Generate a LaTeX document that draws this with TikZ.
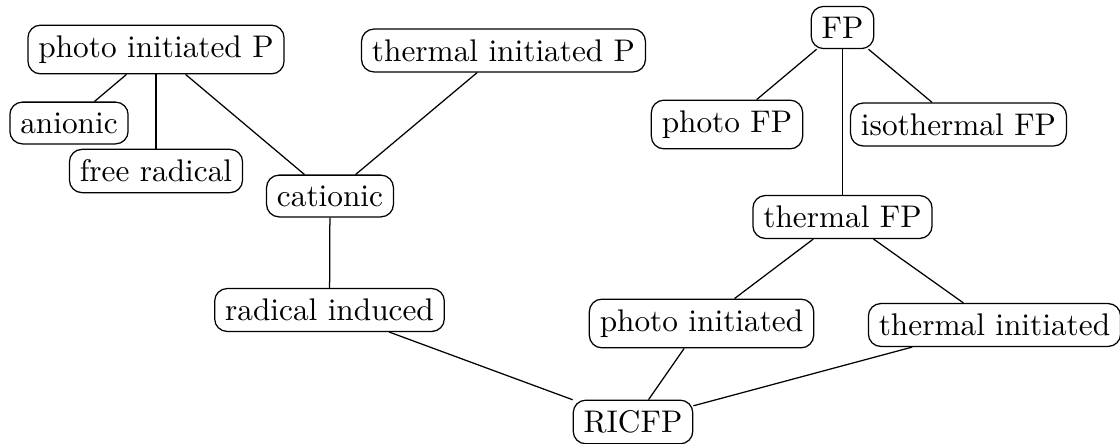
\documentclass[tikz,border=0pt]{standalone}
\begin{document}
\begin{tikzpicture}[x=0.3195pt,y=-0.3195pt,
  box/.style={draw,rounded corners,inner sep=3.33pt}]
\useasboundingbox (0,0) rectangle (1120,444);
\node[box] (pip) at (156,49.5) {photo initiated P};
\node[box] (an) at (69,123) {anionic};
\node[box] (fr) at (156,171) {free radical};
\node[box] (tip) at (503.5,50.5) {thermal initiated P};
\node[box] (cat) at (330,196) {cationic};
\node[box] (fp) at (842.5,27.5) {FP};
\node[box] (pfp) at (727,124.5) {photo FP};
\node[box] (ifp) at (958.5,124.5) {isothermal FP};
\node[box] (tfp) at (842.5,217) {thermal FP};
\node[box] (ri) at (329.5,310) {radical induced};
\node[box] (pi) at (701.5,323.5) {photo initiated};
\node[box] (ti) at (994.5,325) {thermal initiated};
\node[box] (ric) at (633,422) {RICFP};
\draw (pip) -- (an);
\draw (pip.south -| fr.north) -- (fr);
\draw (pip) -- (cat);
\draw (tip) -- (cat);
\draw (cat) -- (ri);
\draw (ri) -- (ric);
\draw (pi) -- (ric);
\draw (ti) -- (ric);
\draw (fp) -- (pfp);
\draw (fp) -- (ifp);
\draw (fp) -- (tfp);
\draw (tfp) -- (pi);
\draw (tfp) -- (ti);
\end{tikzpicture}
\end{document}
